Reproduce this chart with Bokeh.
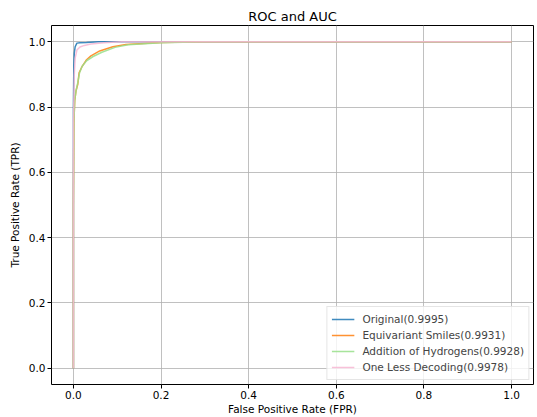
from bokeh.plotting import figure
from bokeh.models import FixedTicker, NumeralTickFormatter, Legend, LegendItem, Range1d
from bokeh.embed import file_html
from bokeh.resources import INLINE

# ---- data ----
orig_fpr = [0.0, 0.0, 0.001, 0.002, 0.004, 0.008, 0.015, 0.03, 0.057, 0.1, 0.3, 1.0]
orig_tpr = [0.0, 0.80, 0.93, 0.965, 0.985, 0.996, 0.997, 0.998, 1.0, 1.0, 1.0, 1.0]

equi_fpr = [0.0, 0.0, 0.001, 0.003, 0.006, 0.010, 0.013, 0.020, 0.030, 0.040, 0.060, 0.090, 0.120, 0.200, 0.300, 1.0]
equi_tpr = [0.0, 0.50, 0.75, 0.82, 0.85, 0.87, 0.905, 0.925, 0.945, 0.957, 0.972, 0.985, 0.992, 0.998, 1.0, 1.0]

hydro_fpr = [0.0, 0.0, 0.001, 0.003, 0.006, 0.010, 0.014, 0.020, 0.030, 0.045, 0.065, 0.095, 0.125, 0.200, 0.300, 1.0]
hydro_tpr = [0.0, 0.50, 0.75, 0.82, 0.85, 0.875, 0.905, 0.925, 0.942, 0.955, 0.968, 0.983, 0.991, 0.997, 1.0, 1.0]

less_fpr = [0.0, 0.0, 0.002, 0.004, 0.008, 0.015, 0.025, 0.040, 0.070, 0.110, 0.300, 1.0]
less_tpr = [0.0, 0.75, 0.90, 0.95, 0.975, 0.984, 0.989, 0.993, 0.997, 1.0, 1.0, 1.0]

labels = ["Original(0.9995)", "Equivariant Smiles(0.9931)",
          "Addition of Hydrogens(0.9928)", "One Less Decoding(0.9978)"]
colors = ["#1f77b4", "#ff7f0e", "#98df8a", "#f7b6d2"]
ticks = [0.0, 0.2, 0.4, 0.6, 0.8, 1.0]

FONT = "DejaVu Sans"

p = figure(width=537, height=417, output_backend="svg", toolbar_location=None,
           x_range=Range1d(-0.05, 1.05), y_range=Range1d(-0.05, 1.05),
           min_border_left=51, min_border_right=4, min_border_top=25, min_border_bottom=32,
           title="ROC and AUC")

p.title.align = "center"
p.title.text_font = FONT
p.title.text_font_size = "13px"
p.title.text_font_style = "normal"
p.title.text_color = "black"
p.title.standoff = 4

series = [(orig_fpr, orig_tpr), (equi_fpr, equi_tpr), (hydro_fpr, hydro_tpr), (less_fpr, less_tpr)]
items = []
for (fx, fy), lab, col in zip(series, labels, colors):
    r = p.line(fx, fy, line_color=col, line_width=1.5, line_alpha=0.85)
    items.append(LegendItem(label=lab, renderers=[r]))

legend = Legend(items=items, location="bottom_right")
legend.label_text_font = FONT
legend.label_text_font_size = "10.5px"
legend.label_height = 16
legend.glyph_height = 16
legend.glyph_width = 23
legend.spacing = 0
legend.padding = 4
legend.margin = 4
legend.label_standoff = 8
legend.border_line_color = "#cccccc"
legend.border_line_width = 1
legend.background_fill_alpha = 0.8
p.add_layout(legend, "center")

for ax in (p.xaxis[0], p.yaxis[0]):
    ax.ticker = FixedTicker(ticks=ticks)
    ax.formatter = NumeralTickFormatter(format="0.0")
    ax.major_label_text_font = FONT
    ax.major_label_text_font_size = "10.5px"
    ax.major_label_text_color = "black"
    ax.axis_label_text_font = FONT
    ax.axis_label_text_font_size = "10.5px"
    ax.axis_label_text_font_style = "normal"
    ax.axis_label_text_color = "black"
    ax.minor_tick_line_color = None
    ax.major_tick_in = 0
    ax.major_tick_out = 4
    ax.major_tick_line_color = "black"
    ax.axis_line_color = None
    ax.major_label_standoff = 2

p.xaxis.axis_label = "False Positive Rate (FPR)"
p.yaxis.axis_label = "True Positive Rate (TPR)"
p.xaxis.axis_label_standoff = 1
p.yaxis.axis_label_standoff = 5

p.grid.grid_line_color = "#b0b0b0"
p.grid.grid_line_width = 0.8
p.outline_line_color = "black"
p.outline_line_width = 1

open("out.html", "w").write(file_html(p, INLINE))
